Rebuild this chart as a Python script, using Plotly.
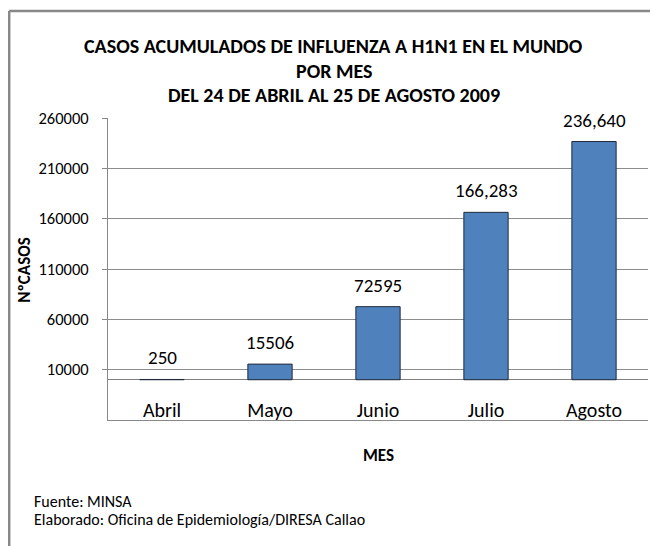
import plotly.graph_objects as go

meses = ["Abril", "Mayo", "Junio", "Julio", "Agosto"]
casos = [250, 15506, 72595, 166283, 236640]
etiquetas = ["250", "15506", "72595", "166,283", "236,640"]
y_ticks = [-40000, 10000, 60000, 110000, 160000, 210000, 260000]

FONT = "Calibri, Carlito, Lato, sans-serif"
BLACK = "#000000"

fig = go.Figure()
fig.add_trace(go.Bar(
    x=meses, y=casos, width=0.41,
    marker=dict(color="#4F81BD", line=dict(color="#1F2A3A", width=1)),
    hoverinfo="x+y",
))

for m, v, t in zip(meses, casos, etiquetas):
    fig.add_annotation(x=m, y=v, text=t, showarrow=False, yanchor="bottom",
                       yshift=8, font=dict(family=FONT, size=19, color=BLACK))

# title lines
titulo = ["CASOS ACUMULADOS DE INFLUENZA A H1N1 EN EL MUNDO", "POR MES",
          "DEL 24 DE ABRIL AL 25 DE AGOSTO 2009"]
for txt, yy in zip(titulo, [1.238, 1.156, 1.076]):
    fig.add_annotation(xref="paper", yref="paper", x=0.4185, y=yy, yanchor="middle",
                       text="<b>" + txt + "</b>", showarrow=False,
                       font=dict(family=FONT, size=20, color=BLACK))
# axis titles
fig.add_annotation(xref="paper", yref="paper", x=0.5, y=-0.116, yanchor="middle",
                   text="<b>MES</b>", showarrow=False, font=dict(family=FONT, size=17, color=BLACK))
fig.add_annotation(xref="paper", yref="paper", x=-0.154, y=0.497, textangle=-90,
                   xanchor="center", yanchor="middle",
                   text="<b>NºCASOS</b>", showarrow=False, font=dict(family=FONT, size=17, color=BLACK))
# footnotes
fig.add_annotation(xref="paper", yref="paper", x=-0.141, y=-0.2715, xanchor="left", yanchor="middle",
                   text="Fuente: MINSA", showarrow=False, font=dict(family=FONT, size=16, color=BLACK))
fig.add_annotation(xref="paper", yref="paper", x=-0.141, y=-0.328, xanchor="left", yanchor="middle",
                   text="Elaborado: Oficina de Epidemiología/DIRESA Callao", showarrow=False,
                   font=dict(family=FONT, size=16, color=BLACK))

# frame (left and top edges visible)
fig.add_shape(type="line", xref="paper", yref="paper", x0=-0.183, x1=-0.183, y0=-0.45, y1=1.354,
              line=dict(color="#888888", width=2.5))
fig.add_shape(type="line", xref="paper", yref="paper", x0=-0.183, x1=1.1, y0=1.354, y1=1.354,
              line=dict(color="#888888", width=2.5))

fig.update_layout(
    width=650, height=538,
    margin=dict(l=100, r=10, t=110, b=126),
    paper_bgcolor="white", plot_bgcolor="white",
    showlegend=False,
    font=dict(family=FONT, color=BLACK),
)
fig.update_xaxes(
    type="category", showgrid=False, showline=True, linecolor="#888888", linewidth=1,
    ticks="", ticklabelposition="inside", tickfont=dict(family=FONT, size=20, color=BLACK),
)
fig.update_yaxes(
    range=[-40000, 260000], tickmode="array", tickvals=y_ticks,
    ticktext=[str(v) for v in y_ticks],
    showgrid=True, gridcolor="#8C8C8C", gridwidth=1,
    zeroline=True, zerolinecolor="#7F7F7F", zerolinewidth=1,
    showline=True, linecolor="#888888", linewidth=1,
    ticks="outside", ticklen=5, tickcolor="#888888", ticklabelstandoff=10,
    tickfont=dict(family=FONT, size=16.5, color=BLACK),
)

fig.write_html("out.html")
